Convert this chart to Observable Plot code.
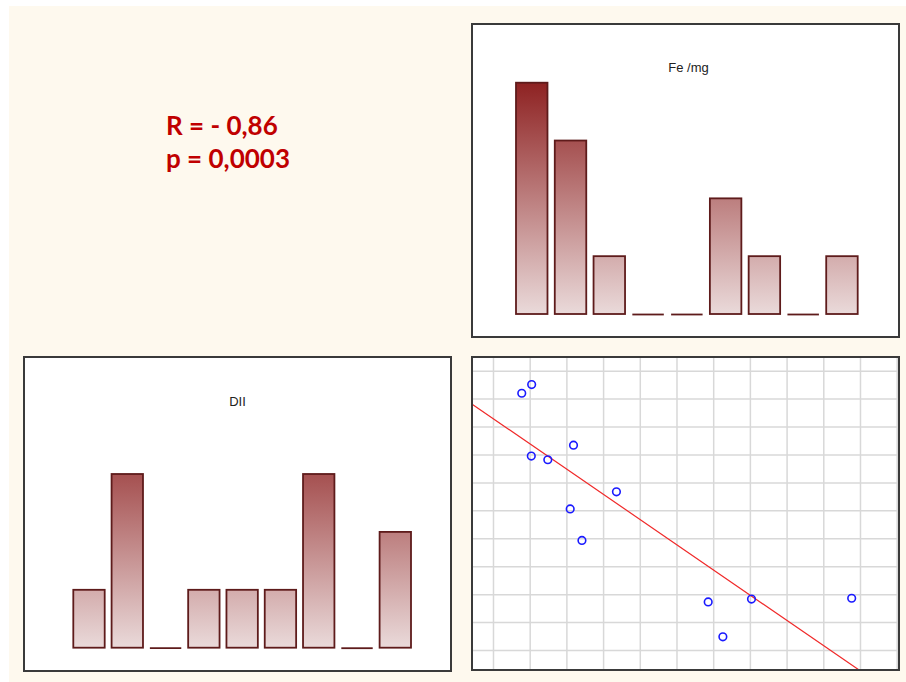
<!DOCTYPE html>
<html>
<head>
<meta charset="utf-8">
<script src="https://cdn.jsdelivr.net/npm/d3@7"></script>
<script src="https://cdn.jsdelivr.net/npm/@observablehq/plot@0.6"></script>
<style>
  html, body { margin: 0; padding: 0; background: #ffffff; }
  #page { position: relative; width: 906px; height: 682px; overflow: hidden; }
  #cream { position: absolute; left: 9px; top: 6px; width: 897px; height: 676px; background: #fef9ee; }
  .panel { position: absolute; background: #ffffff; }
  .panel svg { display: block; }
  .border { position: absolute; box-sizing: border-box; border: 2px solid #3a3a3a; pointer-events: none; }
  #stats { position: absolute; left: 166px; top: 109px; font-family: Lato, "Open Sans", sans-serif; font-weight: 700;
           font-size: 26px; line-height: 33px; color: #c00000; white-space: pre; }
</style>
</head>
<body>
<div id="page">
  <div id="cream"></div>
  <div id="stats"></div>
  <div class="panel" id="fe" style="left:472px; top:24px; width:427px; height:313px;"></div>
  <div class="panel" id="dii" style="left:24px; top:357px; width:427px; height:314px;"></div>
  <div class="panel" id="sc" style="left:472px; top:357px; width:427px; height:313px;"></div>
  <div class="border" style="left:471px; top:23px; width:429px; height:315px;"></div>
  <div class="border" style="left:23px; top:356px; width:429px; height:316px;"></div>
  <div class="border" style="left:471px; top:356px; width:429px; height:315px;"></div>
</div>
<script>
// ---- data ----
const categories = ["1", "2", "3", "4", "5", "6", "7", "8", "9"];
const feValues = [4, 3, 1, 0, 0, 2, 1, 0, 1];
const diiValues = [1, 3, 0, 1, 1, 1, 3, 0, 2];
const feTitle = "Fe /mg";
const diiTitle = "DII";
const scatterX = [0.77, 1.04, 1.03, 1.48, 2.18, 3.35, 2.09, 2.41, 5.85, 6.25, 7.03, 9.76];
const scatterY = [9.21, 9.52, 6.96, 6.83, 7.35, 5.68, 5.07, 3.94, 1.74, 0.49, 1.84, 1.87];
const statLines = ["R = - 0,86", "p = 0,0003"];

const statsEl = document.getElementById("stats");
statLines.forEach(t => { const d = document.createElement("div"); d.textContent = t; statsEl.appendChild(d); });

const barStroke = "#5e1b1b";

function barChart({values, title, id, width, height, mL, mR, mT, mB, pad, titleX, titleBase}) {
  const data = categories.map((c, i) => ({cat: c, v: values[i]}));
  const gid = "grad-" + id;
  const plot = Plot.plot({
    width, height,
    marginLeft: mL, marginRight: mR, marginTop: mT, marginBottom: mB,
    style: {background: "transparent", overflow: "visible"},
    x: {domain: categories, paddingInner: pad, paddingOuter: 0, round: false, axis: null},
    y: {domain: [0, 4], axis: null},
    marks: [
      Plot.barY(data.filter(d => d.v > 0), {x: "cat", y: "v", fill: `url(#${gid})`, stroke: barStroke, strokeWidth: 1.8}),
      Plot.tickY(data.filter(d => d.v === 0), {x: "cat", y: "v", stroke: barStroke, strokeWidth: 1.8}),
      Plot.text([title], {frameAnchor: "top-left", textAnchor: "middle", lineAnchor: "bottom",
        dx: titleX - mL, dy: titleBase - mT, fontSize: 13, fill: "#222",
        fontFamily: "'Liberation Sans', Arial, sans-serif"})
    ]
  });
  const y = plot.scale("y");
  const defs = d3.select(plot).insert("defs", ":first-child");
  const g = defs.append("linearGradient").attr("id", gid).attr("gradientUnits", "userSpaceOnUse")
    .attr("x1", 0).attr("x2", 0).attr("y1", y.apply(0)).attr("y2", y.apply(4));
  g.append("stop").attr("offset", 0).attr("stop-color", "#eadada");
  g.append("stop").attr("offset", 1).attr("stop-color", "#8e2222");
  document.getElementById(id).appendChild(plot);
}

barChart({values: feValues, title: feTitle, id: "fe", width: 427, height: 313,
  mL: 44, mR: 41.3, mT: 58.7, mB: 23, pad: 0.188, titleX: 216, titleBase: 47});
barChart({values: diiValues, title: diiTitle, id: "dii", width: 427, height: 314,
  mL: 49.3, mR: 40, mT: 59.1, mB: 23.3, pad: 0.18, titleX: 213, titleBase: 48});

// ---- scatter ----
const pts = scatterX.map((x, i) => ({x, y: scatterY[i]}));
const mx = d3.mean(scatterX), my = d3.mean(scatterY);
const sxy = d3.sum(pts, p => (p.x - mx) * (p.y - my));
const sxx = d3.sum(pts, p => (p.x - mx) ** 2);
const slope = sxy / sxx, icpt = my - slope * mx;
const xDom = [-0.572, 11.063], yDom = [-0.716, 10.49];
const fit = xDom.map(x => ({x, y: icpt + slope * x}));

const sc = Plot.plot({
  width: 427, height: 313,
  marginLeft: 0, marginRight: 0, marginTop: 0, marginBottom: 0,
  style: {background: "transparent"},
  x: {domain: xDom, axis: null},
  y: {domain: yDom, axis: null},
  marks: [
    Plot.gridX(d3.range(0, 12), {stroke: "#d8d8d8", strokeOpacity: 1, strokeWidth: 1.5}),
    Plot.gridY(d3.range(0, 11), {stroke: "#d8d8d8", strokeOpacity: 1, strokeWidth: 1.5}),
    Plot.line(fit, {x: "x", y: "y", stroke: "#f02a2a", strokeWidth: 1.2, clip: true}),
    Plot.dot(pts, {x: "x", y: "y", r: 3.8, stroke: "#1a1aff", strokeWidth: 1.6, fill: "none"})
  ]
});
document.getElementById("sc").appendChild(sc);
</script>
</body>
</html>
